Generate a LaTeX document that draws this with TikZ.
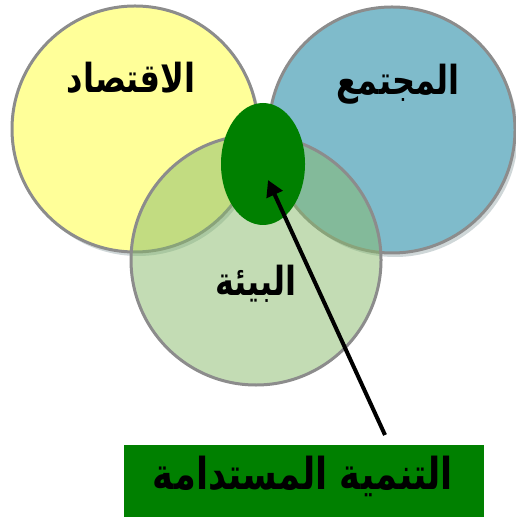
\documentclass[tikz,border=0pt]{standalone}
\usepackage{fontspec}
\newfontfamily\arabicfont[Script=Arabic]{DejaVu Sans}
\TeXXeTstate=1
\usetikzlibrary{arrows.meta,shapes.geometric,shadows}
\definecolor{econyellow}{RGB}{255,255,153}
\definecolor{socblue}{RGB}{127,187,203}
\definecolor{envgreen}{RGB}{135,186,106}
\definecolor{sdgreen}{RGB}{0,128,0}
\definecolor{ringgray}{RGB}{140,140,140}
\begin{document}
\begin{tikzpicture}[x=0.5pt, y=-0.5pt,
    ring/.style={circle, draw=ringgray, line width=1.5pt, inner sep=0pt},
    ringshadow/.style={drop shadow={shadow xshift=1.5pt, shadow yshift=-2pt, opacity=0.25, fill=black!50!socblue}},
    labeltext/.style={font=\arabicfont\bfseries\fontsize{20}{22}\selectfont, inner sep=0pt, anchor=base, xscale=0.8, transform shape}
]
    \useasboundingbox (0,0) rectangle (515,517);
    % the three rings
    \node[ring, ringshadow, fill=econyellow, minimum size=123pt] (econ) at (135,129) {};
    \node[ring, ringshadow, fill=socblue, minimum size=123pt] (soc) at (392,130) {};
    \node[ring, fill=envgreen, fill opacity=0.5, minimum size=125pt] (env) at (256,260) {};
    % centre where all three meet
    \node[ellipse, fill=sdgreen, minimum width=42pt, minimum height=61pt, inner sep=0pt] (sustain) at (263,164) {};
    % labels
    \node[labeltext] (econlabel) at (131,93) {\beginR الاقتصاد\endR};
    \node[labeltext] (soclabel) at (398,95) {\beginR المجتمع\endR};
    \node[labeltext] (envlabel) at (256,295) {\beginR البيئة\endR};
    % caption box and pointer
    \node[fill=sdgreen, minimum width=180pt, minimum height=36pt, inner sep=0pt] (goal) at (304,481) {};
    \node[labeltext, font=\arabicfont\bfseries\fontsize{22}{24}\selectfont] (goallabel) at (303,489) {\beginR التنمية المستدامة\endR};
    \coordinate (tail) at (385,435);
    \coordinate (tip) at (268,180);
    \draw[line width=2pt, -{Triangle[length=8pt, width=8.5pt]}] (tail) -- (tip);
\end{tikzpicture}
\end{document}
